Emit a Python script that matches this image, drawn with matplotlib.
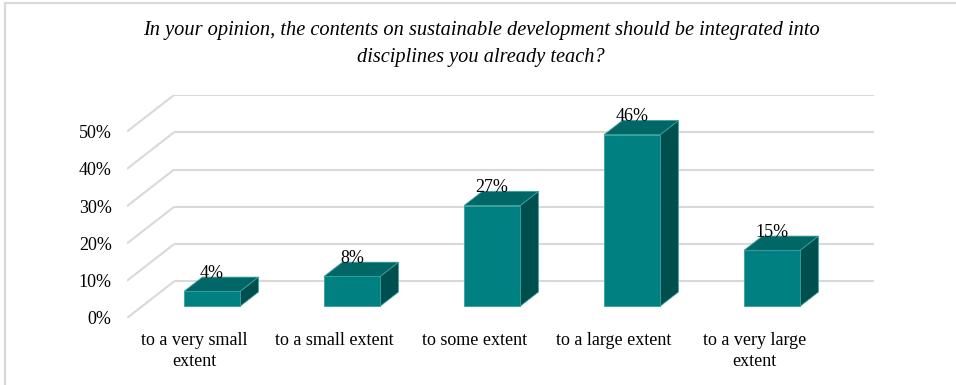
import numpy as np
import matplotlib.pyplot as plt
from matplotlib.patches import Polygon
from matplotlib.lines import Line2D

plt.rcParams['font.family'] = ['Liberation Serif', 'DejaVu Serif']

title = ('In your opinion, the contents on sustainable development should be integrated into\n'
         'disciplines you already teach?')
categories = ['to a very small\nextent', 'to a small extent', 'to some extent',
              'to a large extent', 'to a very large\nextent']
values = [4, 8, 27, 46, 15]
yticks = [0, 10, 20, 30, 40, 50]

# fake 3d: depth vector in data units (category units, percent)
DX, DY = 0.336, 9.8
D0, D1 = 0.32, 0.71      # front / back depth of the columns
BW = 0.4                 # column width

front_c = '#008080'
top_c = '#006666'
side_c = '#004f4f'
edge_c = '#3a9e9e'
grid_c = '#d9d9d9'

W, H = 956, 385
fig = plt.figure(figsize=(W / 100, H / 100), dpi=100)
x0, x1 = 127, 874
y0, y1 = 318, 95
ax = fig.add_axes([x0 / W, (H - y0) / H, (x1 - x0) / W, (y0 - y1) / H])
n = len(categories)
ax.set_xlim(0, n + DX)
ax.set_ylim(0, yticks[-1] + DY)
for s in ax.spines.values():
    s.set_visible(False)
ax.set_xticks([])
ax.set_yticks(yticks)
ax.set_yticklabels(['%d%%' % t for t in yticks])
ax.tick_params(axis='y', length=0, pad=11, labelsize=13)

# side wall and back wall gridlines
for t in yticks:
    ax.plot([0, DX], [t, t + DY], color=grid_c, lw=1.5, zorder=1, solid_capstyle='butt')
    ax.plot([DX, n + DX], [t + DY, t + DY], color=grid_c, lw=1.5, zorder=1,
            solid_capstyle='butt')


def shift(x, y, d):
    return (x + d * DX, y + d * DY)


for i, v in enumerate(values):
    xl = i + 0.5 - BW / 2
    xr = i + 0.5 + BW / 2
    fbl, fbr = shift(xl, 0, D0), shift(xr, 0, D0)
    ftl, ftr = shift(xl, v, D0), shift(xr, v, D0)
    btl, btr = shift(xl, v, D1), shift(xr, v, D1)
    bbr = shift(xr, 0, D1)
    ax.add_patch(Polygon([fbr, bbr, btr, ftr], closed=True, fc=side_c, ec=edge_c,
                         lw=0.6, zorder=3))
    ax.add_patch(Polygon([ftl, ftr, btr, btl], closed=True, fc=top_c, ec=edge_c,
                         lw=0.6, zorder=3))
    ax.add_patch(Polygon([fbl, fbr, ftr, ftl], closed=True, fc=front_c, ec=edge_c,
                         lw=0.6, zorder=4))
    cx = (xl + xr) / 2 + D0 * DX
    ax.text(cx, v + D1 * DY + 1.0, '%d%%' % v, ha='center', va='center',
            fontsize=13, color='black', zorder=5)
    ax.text(i + 0.48, -3.8, categories[i], ha='center', va='top', fontsize=13,
            linespacing=1.32, clip_on=False)

fig.text(481 / W, 1 - 44 / H, title, ha='center', va='center', fontsize=14.7,
         style='italic', linespacing=1.55)

# chart frame
fig.add_artist(Line2D([4.5 / W, 1.0], [1 - 2.5 / H, 1 - 2.5 / H], color=grid_c, lw=1.6))
fig.add_artist(Line2D([4.5 / W, 4.5 / W], [0.0, 1 - 2.5 / H], color=grid_c, lw=1.6))

fig.savefig('out.png', dpi=100)
